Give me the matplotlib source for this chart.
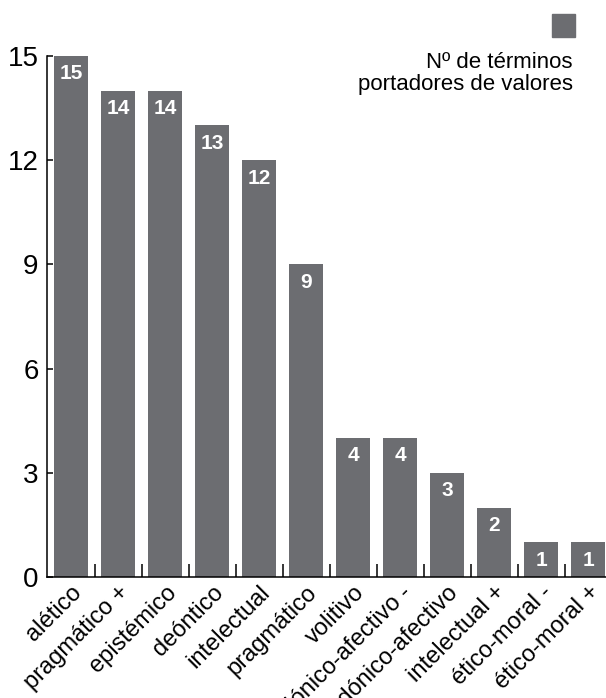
"""Bar chart: number of value-bearing terms per value type."""
import matplotlib
matplotlib.use("Agg")
import matplotlib.pyplot as plt
from matplotlib.patches import Rectangle

categories = ["alético", "pragmático +", "epistémico", "deóntico",
              "intelectual", "pragmático", "volitivo", "hedónico-afectivo -",
              "hedónico-afectivo", "intelectual +", "ético-moral -",
              "ético-moral +"]
values = [15, 14, 14, 13, 12, 9, 4, 4, 3, 2, 1, 1]
y_ticks = [0, 3, 6, 9, 12, 15]
legend_label = "Nº de términos\nportadores de valores"

BAR_COLOR = "#6c6d71"


def main():
    plt.rcParams["font.family"] = ["Liberation Sans", "DejaVu Sans"]

    fig = plt.figure(figsize=(6.06, 6.98), dpi=100)
    ax = fig.add_axes([0.0776, 0.1734, 0.9224, 0.9198 - 0.1734])

    x = list(range(len(categories)))
    ax.bar(x, values, width=0.72, color=BAR_COLOR)

    # Value labels inside the bars, near the top.
    for xi, v in zip(x, values):
        ax.annotate(str(v), (xi, v), xytext=(0, -6), textcoords="offset points",
                    ha="center", va="top", color="white",
                    fontsize=15, fontweight="bold")

    ax.set_xlim(-0.51, 11.38)
    ax.set_ylim(0, 15)

    # Axis styling.
    for side in ("top", "right"):
        ax.spines[side].set_visible(False)
    for side in ("left", "bottom"):
        ax.spines[side].set_linewidth(1.1)

    ax.set_yticks(y_ticks)
    ax.tick_params(axis="y", direction="in", length=4.5, width=1.1,
                   labelsize=20, pad=6)

    ax.set_xticks(x)
    ax.set_xticklabels(categories, rotation=45, ha="right",
                       rotation_mode="anchor", fontsize=17)
    ax.tick_params(axis="x", which="major", length=0, pad=3)
    ax.set_xticks([i + 0.5 for i in x[:-1]], minor=True)
    ax.tick_params(axis="x", which="minor", direction="in", length=9.5,
                   width=1.1)

    # Legend in the top right corner.
    fig.patches.append(Rectangle((0.911, 0.947), 0.038, 0.033,
                                 transform=fig.transFigure,
                                 color=BAR_COLOR))
    fig.text(0.9455, 0.926, legend_label, ha="right", va="top",
             fontsize=16, linespacing=1.1)

    plt.savefig("out.png", dpi=100)


main()
